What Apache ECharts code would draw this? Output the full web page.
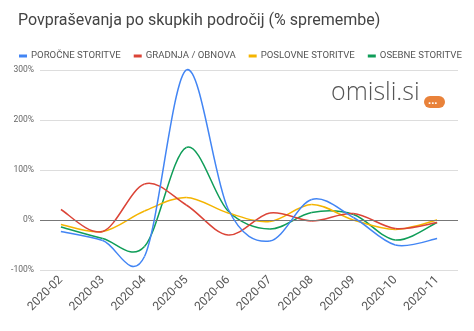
<!DOCTYPE html>
<html>
<head>
<meta charset="utf-8">
<script src="https://cdn.jsdelivr.net/npm/echarts@6/dist/echarts.min.js"></script>
<style>
html,body{margin:0;padding:0;background:#fff;}
#chart{width:474px;height:331px;}
</style>
</head>
<body>
<div id="chart"></div>
<script>
const categories = ['2020-02','2020-03','2020-04','2020-05','2020-06','2020-07','2020-08','2020-09','2020-10','2020-11'];
const porocne = [-23, -41, -73, 300, 22, -42, 41, 5, -50, -37];
const gradnja = [21, -23, 72, 30, -30, 14, -2, 13, -17, -5];
const poslovne = [-9, -23, 18, 45, 14, -3, 31, 0, -19, 0];
const osebne = [-14, -37, -53, 145, 18, -18, 15, 11, -40, -5];
const seriesNames = ['POROČNE STORITVE','GRADNJA / OBNOVA','POSLOVNE STORITVE','OSEBNE STORITVE'];
const yTicks = [-100, 0, 100, 200, 300];
const colors = ['#4285F4','#DB4437','#F4B400','#0F9D58'];

const chart = echarts.init(document.getElementById('chart'));

// Smooth curve (Catmull-Rom) through each data point, positioned by the chart's own axes (api.coord)
function splineSeries(name, data, color, z) {
  const n = data.length;
  return {
    name, type:'custom', coordinateSystem:'cartesian2d', z,
    data: data.map((v, i) => [i, v]),
    encode:{x:0, y:1},
    itemStyle:{color},
    renderItem(params, api) {
      const i = params.dataIndex;
      if (i >= n - 1) return null;
      const P = k => { const j = Math.max(0, Math.min(n - 1, k)); return api.coord([j, data[j]]); };
      const p0 = P(i - 1), p1 = P(i), p2 = P(i + 1), p3 = P(i + 2);
      return {
        type:'bezierCurve',
        shape:{
          x1:p1[0], y1:p1[1], x2:p2[0], y2:p2[1],
          cpx1:p1[0] + (p2[0] - p0[0]) / 6, cpy1:p1[1] + (p2[1] - p0[1]) / 6,
          cpx2:p2[0] - (p3[0] - p1[0]) / 6, cpy2:p2[1] - (p3[1] - p1[1]) / 6
        },
        style:{stroke:color, lineWidth:1.5, fill:null}
      };
    }
  };
}

chart.setOption({
  animation:false,
  color: colors,
  title:{
    text:'Povpraševanja po skupkih področij (% spremembe)',
    left:13, top:8,
    textStyle:{fontFamily:'Roboto', fontSize:16, fontWeight:'normal', color:'#444'}
  },
  legend:{
    left:14, top:46, itemGap:13, itemWidth:8, itemHeight:3,
    icon:'rect',
    textStyle:{fontFamily:'Roboto', fontSize:9.6, color:'#555', padding:[0,0,0,-1]},
    data: seriesNames
  },
  graphic:[
    {type:'text', left:331, top:80, style:{text:'omisli.si', font:'300 25px "Open Sans"', fill:'#555'}},
    {type:'rect', shape:{x:424, y:96, width:21, height:12, r:6}, style:{fill:'#E9823A'}},
    {type:'text', left:428, top:95, style:{text:'...', font:'bold 11px "Open Sans"', fill:'#fff'}}
  ],
  grid:{left:40, right:16, top:70, bottom:61},
  xAxis:{
    type:'category', data:categories, boundaryGap:true,
    axisLine:{show:false}, axisTick:{show:false},
    axisLabel:{rotate:45, fontFamily:'Roboto', fontSize:12, color:'#555', margin:8}
  },
  yAxis:{
    type:'value', min:yTicks[0], max:yTicks[yTicks.length-1], interval:100,
    axisLabel:{formatter: v => v + '%', fontFamily:'Roboto', fontSize:8.5, color:'#666', margin:6},
    axisLine:{show:false}, axisTick:{show:false},
    splitLine:{lineStyle:{color:'#ddd', width:1}}
  },
  series:[
    {type:'line', data:[], z:1, markLine:{silent:true, symbol:'none', label:{show:false},
      lineStyle:{color:'#777', width:1, type:'solid'}, data:[{yAxis:0}]}},
    splineSeries(seriesNames[0], porocne, colors[0], 5),
    splineSeries(seriesNames[1], gradnja, colors[1], 4),
    splineSeries(seriesNames[2], poslovne, colors[2], 3),
    splineSeries(seriesNames[3], osebne, colors[3], 2)
  ]
});
</script>
</body>
</html>
